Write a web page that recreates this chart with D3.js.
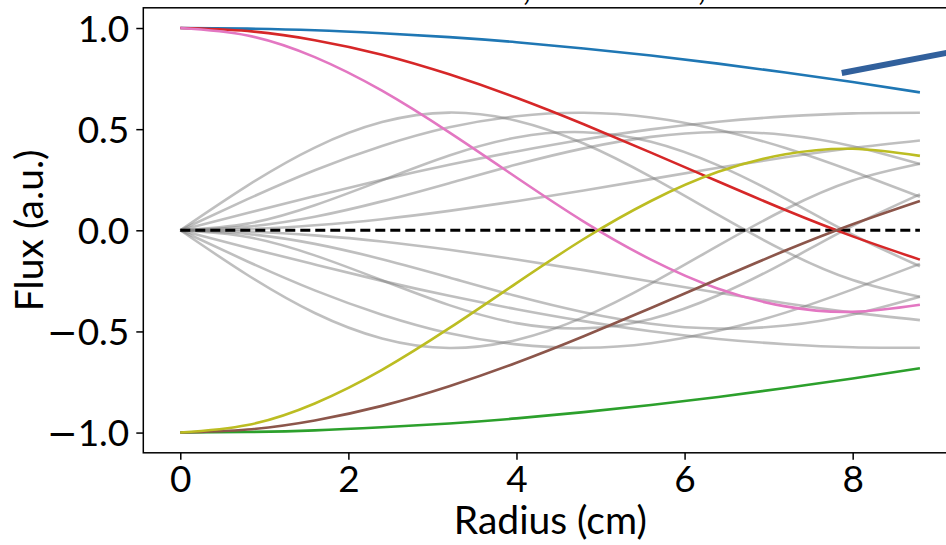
<!DOCTYPE html>
<html>
<head>
<meta charset="utf-8">
<script src="https://cdn.jsdelivr.net/npm/d3@7"></script>
<style>
  body { margin: 0; background: #fff; }
  text { font-family: Lato, 'Open Sans', sans-serif; }
</style>
</head>
<body>
<div id="app"></div>
<script>
/* global d3 */

// Sample radii (cm) shared by every curve
const radius = [0, 0.8, 1.6, 2.4, 3.2, 4.0, 4.8, 5.6, 6.4, 7.2, 8.0, 8.8];

// Coloured modes
const blueFlux = [1, 0.997, 0.989, 0.974, 0.955, 0.930, 0.899, 0.864, 0.824, 0.780, 0.733, 0.682];
const redFlux = [1, 0.985, 0.940, 0.868, 0.771, 0.655, 0.524, 0.384, 0.241, 0.100, -0.030, -0.145];
const pinkFlux = [1, 0.963, 0.856, 0.690, 0.484, 0.261, 0.043, -0.145, -0.289, -0.376, -0.403, -0.368];
const greenFlux = [-1, -0.997, -0.989, -0.974, -0.955, -0.930, -0.899, -0.864, -0.824, -0.780, -0.733, -0.682];
const brownFlux = [-1, -0.985, -0.940, -0.868, -0.771, -0.655, -0.524, -0.384, -0.241, -0.100, 0.030, 0.145];
const oliveFlux = [-1, -0.963, -0.856, -0.690, -0.484, -0.261, -0.043, 0.145, 0.289, 0.376, 0.403, 0.368];

// Grey background modes
const grayA = [0, 0.221, 0.409, 0.535, 0.582, 0.542, 0.429, 0.264, 0.076, -0.104, -0.246, -0.329];
const grayB = [0, 0.154, 0.297, 0.417, 0.509, 0.564, 0.581, 0.558, 0.497, 0.407, 0.292, 0.166];
const grayC = [0, 0.086, 0.169, 0.250, 0.324, 0.390, 0.449, 0.499, 0.537, 0.563, 0.578, 0.581];
const grayD = [0, 0.033, 0.124, 0.247, 0.370, 0.459, 0.485, 0.438, 0.321, 0.157, -0.022, -0.178];
const grayE = [0, 0.018, 0.067, 0.143, 0.233, 0.325, 0.405, 0.462, 0.486, 0.471, 0.416, 0.328];
const grayF = [0, 0.006, 0.025, 0.055, 0.096, 0.144, 0.197, 0.253, 0.309, 0.361, 0.407, 0.444];
const grayA2 = [0, -0.221, -0.409, -0.535, -0.582, -0.542, -0.429, -0.264, -0.076, 0.104, 0.246, 0.329];
const grayB2 = [0, -0.154, -0.297, -0.417, -0.509, -0.564, -0.581, -0.558, -0.497, -0.407, -0.292, -0.166];
const grayC2 = [0, -0.086, -0.169, -0.250, -0.324, -0.390, -0.449, -0.499, -0.537, -0.563, -0.578, -0.581];
const grayD2 = [0, -0.033, -0.124, -0.247, -0.370, -0.459, -0.485, -0.438, -0.321, -0.157, 0.022, 0.178];
const grayE2 = [0, -0.018, -0.067, -0.143, -0.233, -0.325, -0.405, -0.462, -0.486, -0.471, -0.416, -0.328];
const grayF2 = [0, -0.006, -0.025, -0.055, -0.096, -0.144, -0.197, -0.253, -0.309, -0.361, -0.407, -0.444];

// Zero reference line and the annotation arrow shaft
const zeroR = [0, 8.8];
const zeroFlux = [0, 0];
const arrowR = [7.87, 10.5];
const arrowFlux = [0.778, 0.987];

// Axis ticks
const xTicks = [0, 2, 4, 6, 8];
const yTicks = [-1.0, -0.5, 0.0, 0.5, 1.0];

// Constants
const width = 946;
const height = 545;
const margin = ({
  top: 7.8,
  left: 143.3,
});
const plotWidth = 813.6;
const plotHeight = 445;
const tickSize = 37;
const labelSize = 39;

const svg = d3.select('#app')
  .append('svg')
  .attr('width', width)
  .attr('height', height);

const xScale = d3.scaleLinear()
  .domain([-0.44, 9.24])
  .range([margin.left, margin.left + plotWidth]);
const yScale = d3.scaleLinear()
  .domain([-1.1, 1.1])
  .range([margin.top + plotHeight, margin.top]);

const line = d3.line()
  .x((d) => xScale(d[0]))
  .y((d) => yScale(d[1]))
  .curve(d3.curveNatural);

function pairs(xs, ys) {
  return xs.map((x, i) => [x, ys[i]]);
}

// Grey modes first, half transparent
const grayModes = [grayA, grayB, grayC, grayD, grayE, grayF, grayA2, grayB2, grayC2, grayD2, grayE2, grayF2];
svg.append('g')
  .attr('id', 'grayModes')
  .selectAll('path')
  .data(grayModes)
  .join('path')
  .attr('d', (d) => line(pairs(radius, d)))
  .attr('fill', 'none')
  .attr('stroke', '#808080')
  .attr('stroke-opacity', 0.5)
  .attr('stroke-width', 2.6);

// Dashed zero line
svg.append('path')
  .attr('d', line(pairs(zeroR, zeroFlux)))
  .attr('fill', 'none')
  .attr('stroke', '#000')
  .attr('stroke-width', 3)
  .attr('stroke-dasharray', '10,5');

// Coloured modes
const colorModes = [
  { values: blueFlux, color: '#1f77b4' },
  { values: redFlux, color: '#d62728' },
  { values: pinkFlux, color: '#e377c2' },
  { values: greenFlux, color: '#2ca02c' },
  { values: brownFlux, color: '#8c564b' },
  { values: oliveFlux, color: '#bcbd22' },
];
svg.append('g')
  .attr('id', 'colorModes')
  .selectAll('path')
  .data(colorModes)
  .join('path')
  .attr('d', (d) => line(pairs(radius, d.values)))
  .attr('fill', 'none')
  .attr('stroke', (d) => d.color)
  .attr('stroke-width', 2.6);

// Axes
const xAxis = svg.append('g')
  .attr('transform', `translate(0, ${margin.top + plotHeight})`)
  .call(d3.axisBottom(xScale).tickValues(xTicks).tickSize(7).tickPadding(6)
    .tickFormat(d3.format('d')));
const yAxis = svg.append('g')
  .attr('transform', `translate(${margin.left}, 0)`)
  .call(d3.axisLeft(yScale).tickValues(yTicks).tickSize(7).tickPadding(7)
    .tickFormat(d3.format('.1f')));
[xAxis, yAxis].forEach((ax) => {
  ax.select('.domain').remove();
  ax.selectAll('line').attr('stroke', '#000').attr('stroke-width', 1.5);
  ax.selectAll('text')
    .attr('fill', '#000')
    .style('font-size', `${tickSize}px`)
    .style('font-family', 'Lato, sans-serif');
});
yAxis.selectAll('text').attr('dy', '0.36em');

// Wide minus sign on the negative tick labels
yAxis.selectAll('.tick text').each(function () {
  const label = d3.select(this);
  const s = label.text();
  if (s.startsWith('\u2212')) {
    label.text(null);
    label.append('tspan').style('font-family', "'DejaVu Sans', sans-serif").text('\u2212');
    label.append('tspan').text(s.slice(1));
  }
});

// Spines (right one sits outside the window)
svg.append('rect')
  .attr('x', margin.left)
  .attr('y', margin.top)
  .attr('width', plotWidth)
  .attr('height', plotHeight)
  .attr('fill', 'none')
  .attr('stroke', '#000')
  .attr('stroke-width', 1.5);

// Annotation arrow shaft
svg.append('path')
  .attr('d', d3.line()
    .x((d) => xScale(d[0]))
    .y((d) => yScale(d[1]))(pairs(arrowR, arrowFlux)))
  .attr('stroke', '#31609c')
  .attr('stroke-width', 6);

// Labels
svg.append('text')
  .attr('text-anchor', 'middle')
  .attr('x', margin.left + 407)
  .attr('y', 534)
  .style('font-size', `${labelSize}px`)
  .text('Radius (cm)');
svg.append('text')
  .attr('text-anchor', 'middle')
  .attr('transform', `translate(43, ${margin.top + plotHeight / 2}) rotate(-90)`)
  .style('font-size', `${labelSize}px`)
  .text('Flux (a.u.)');

// Title, mostly above the window
const title = svg.append('text')
  .attr('y', 0)
  .attr('text-anchor', 'end')
  .style('font-size', `${tickSize}px`);
title.append('tspan').attr('x', 531).text('Flux modes J0,');
title.append('tspan').attr('x', 706).text(' J1,');
</script>
</body>
</html>
